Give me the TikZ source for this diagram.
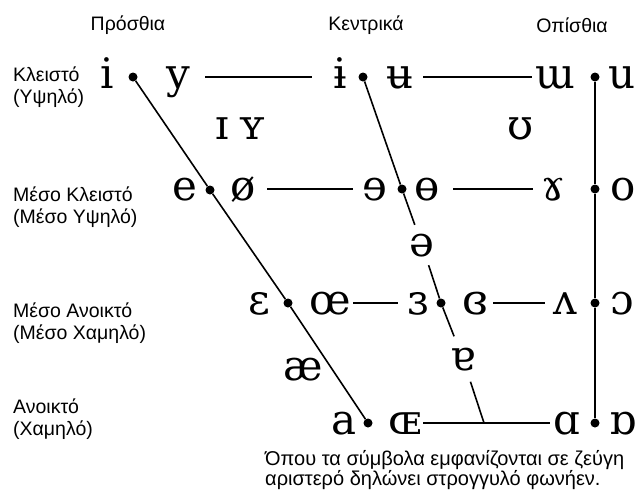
\documentclass[tikz,border=0pt]{standalone}
\usepackage{fontspec}
\setmainfont{DejaVu Serif}
\newfontfamily\labelfont{Liberation Sans}
\usepackage{tikz}
\tikzstyle{vowel} = [inner sep=0pt, text height=22pt, text depth=0pt, font=\fontsize{42}{42}\selectfont]
\tikzstyle{gapvowel} = [vowel, inner ysep=9pt]
\tikzstyle{vdot} = [circle, fill=black, inner sep=0pt, minimum size=9pt]
\tikzstyle{rowlabel} = [anchor=west, align=left, inner sep=0pt, font=\labelfont\fontsize{19.5}{22}\selectfont]
\tikzstyle{colhead} = [inner sep=0pt, font=\labelfont\fontsize{19.5}{22}\selectfont]
\tikzstyle{chartline} = [line width=1.6pt]

\begin{document}
\begin{tikzpicture}[x=1pt, y=-1pt] % one unit = one pixel, y pointing down
\useasboundingbox[fill=white] (0,0) rectangle (639,491);

% Column and row headings
\node(h_front)    [colhead]  at (128,25)  {Πρόσθια};
\node(h_central)  [colhead]  at (366,25)  {Κεντρικά};
\node(h_back)     [colhead]  at (572,25)  {Οπίσθια};
\node(r_close)    [rowlabel] at (13,87)   {Κλειστό\\(Υψηλό)};
\node(r_closemid) [rowlabel] at (13,207)  {Μέσο Κλειστό\\(Μέσο Υψηλό)};
\node(r_openmid)  [rowlabel] at (13,323)  {Μέσο Ανοικτό\\(Μέσο Χαμηλό)};
\node(r_open)     [rowlabel] at (13,419)  {Ανοικτό\\(Χαμηλό)};

% Dots on the chart lines
\node(d_front_1)   [vdot] at (133,77)  {};
\node(d_front_2)   [vdot] at (210,190) {};
\node(d_front_3)   [vdot] at (288,303) {};
\node(d_front_4)   [vdot] at (368,423) {};
\node(d_central_1) [vdot] at (363,77)  {};
\node(d_central_2) [vdot] at (402,189) {};
\node(d_central_3) [vdot] at (441,303) {};
\node(d_back_1)    [vdot] at (595,77)  {};
\node(d_back_2)    [vdot] at (595,189) {};
\node(d_back_3)    [vdot] at (595,303) {};
\node(d_back_4)    [vdot] at (595,423) {};
\coordinate(c_bottom) at (484,423);

% Place the vowels
\node(i)          [vowel] at (107,77)  {i};
\node(y)          [vowel] at (178,77)  {y};
\node(bar_i)      [vowel] at (340,77)  {ɨ};
\node(bar_u)      [vowel] at (400,77)  {ʉ};
\node(turned_m)   [vowel] at (555,77)  {ɯ};
\node(u)          [vowel] at (622,77)  {u};
\node(small_i)    [vowel] at (222,128) {ɪ};
\node(small_y)    [vowel] at (252,128) {ʏ};
\node(upsilon)    [vowel] at (521,128) {ʊ};
\node(e)          [vowel] at (185,189) {e};
\node(slash_o)    [vowel] at (243,189) {ø};
\node(rev_e)      [vowel] at (375,189) {ɘ};
\node(bar_o)      [vowel] at (427,189) {ɵ};
\node(rams_horn)  [vowel] at (553,189) {ɤ};
\node(o)          [vowel] at (623,189) {o};
\node(schwa)      [gapvowel] at (422,245) {ə};
\node(epsilon)    [vowel] at (259,303) {ɛ};
\node(oe)         [vowel] at (330,303) {œ};
\node(rev_eps)    [vowel] at (418,303) {ɜ};
\node(closed_eps) [vowel] at (475,303) {ɞ};
\node(turned_v)   [vowel] at (565,303) {ʌ};
\node(open_o)     [vowel] at (622,303) {ɔ};
\node(ash)        [vowel] at (303,369) {æ};
\node(turned_a)   [gapvowel, inner ysep=11.5pt] at (463,359) {ɐ};
\node(a)          [vowel] at (344,423) {a};
\node(small_oe)   [vowel] at (405,423) {ɶ};
\node(script_a)   [vowel] at (567,423) {ɑ};
\node(turned_sa)  [vowel] at (623,423) {ɒ};

% Footnote
\node(note) [anchor=north west, align=left, inner sep=0pt, font=\labelfont\fontsize{20}{18.5}\selectfont] at (265,450)
  {Όπου τα σύμβολα εμφανίζονται σε ζεύγη\\αριστερό δηλώνει στρογγυλό φωνήεν.};

% Connect the chart lines
\draw [chartline] (d_front_1) -- (d_front_2) -- (d_front_3) -- (d_front_4);
\draw [chartline] (d_central_1) -- (d_central_2) -- (schwa);
\draw [chartline] (schwa) -- (d_central_3) -- (turned_a);
\draw [chartline] (turned_a) -- (c_bottom);
\draw [chartline] (d_back_1) -- (d_back_2) -- (d_back_3) -- (d_back_4);
\draw [chartline] ([xshift=27pt]y.center)          -- ([xshift=-28pt]bar_i.center);
\draw [chartline] ([xshift=23pt]bar_u.center)      -- ([xshift=-23pt]turned_m.center);
\draw [chartline] ([xshift=24pt]slash_o.center)    -- ([xshift=-22pt]rev_e.center);
\draw [chartline] ([xshift=26pt]bar_o.center)      -- ([xshift=-20pt]rams_horn.center);
\draw [chartline] ([xshift=23pt]oe.center)         -- ([xshift=-20pt]rev_eps.center);
\draw [chartline] ([xshift=18pt]closed_eps.center) -- ([xshift=-20pt]turned_v.center);
\draw [chartline] ([xshift=18pt]small_oe.center)   -- ([xshift=-17pt]script_a.center);

\end{tikzpicture}
\end{document}
